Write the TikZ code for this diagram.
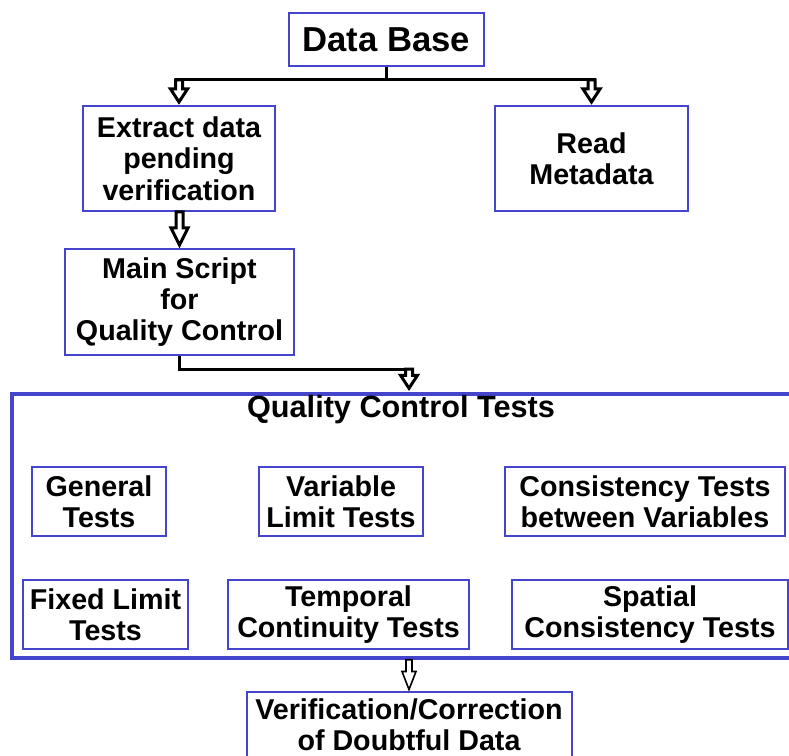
\documentclass[tikz,border=0pt]{standalone}
\usepackage{fontspec}
\setmainfont{Liberation Sans}
\usetikzlibrary{calc}
\newdimen\pxu \pxu=0.75pt
\definecolor{boxblue}{RGB}{68,68,204}
% #1 style, #2 start, #3 tip, #4 shaft half width, #5 head half width, #6 head length
\newcommand\hollowarrow[6]{%
  \coordinate (ha-s) at (#2 -| #3);
  \draw[#1] ($(ha-s)+(-#4,0)$) -- ($(#3)+(-#4,-#6)$) -- ($(#3)+(-#5,-#6)$) -- (#3)
    -- ($(#3)+(#5,-#6)$) -- ($(#3)+(#4,-#6)$) -- ($(ha-s)+(#4,0)$) -- cycle;}
\tikzset{
  box/.style={draw=boxblue, line width=2\pxu, fill=white, inner sep=0pt, align=center,
    font=\bfseries\fontsize{21.5}{23.5}\selectfont},
  bigbox/.style={draw=boxblue, line width=3.5\pxu, inner sep=0pt},
  titletext/.style={inner sep=0pt, font=\bfseries\fontsize{23}{25}\selectfont},
  conn/.style={line width=3\pxu, black},
  harr/.style={draw=black, fill=white, line width=3\pxu, line join=miter},
  harrthin/.style={draw=black, fill=white, line width=1.6\pxu, line join=miter}
}
\begin{document}
\begin{tikzpicture}[x=0.75pt, y=-0.75pt]
\useasboundingbox (0,0) rectangle (789,756);
\fill[white] (0,0) rectangle (789,756);

% top part
\node[box, minimum width=195\pxu, minimum height=53\pxu,
  font=\bfseries\fontsize{26}{28}\selectfont] (db) at (386.5,39.5) {Data Base};
\node[box, minimum width=192\pxu, minimum height=105\pxu] (ext) at (179,158.5)
  {Extract data\\pending\\verification};
\node[box, minimum width=193\pxu, minimum height=105\pxu] (meta) at (591.5,158.5)
  {Read\\Metadata};
\node[box, minimum width=229\pxu, minimum height=106\pxu] (main) at (179.5,302)
  {Main Script\\for\hspace*{0.8em}\\Quality Control};

% quality control tests frame
\node[bigbox, minimum width=792\pxu, minimum height=264\pxu] (qc) at (408,526) {};
\node[titletext] (qct) at (401,410) {Quality Control Tests};

\node[box, minimum width=134\pxu, minimum height=69\pxu] (gen) at (99,501.5)
  {General\\Tests};
\node[box, minimum width=164\pxu, minimum height=69\pxu] (var) at (341,501.5)
  {Variable\\Limit Tests};
\node[box, minimum width=280\pxu, minimum height=69\pxu] (cons) at (645,501.5)
  {Consistency Tests\\between Variables};
\node[box, minimum width=165\pxu, minimum height=69\pxu] (fix) at (105.5,614.5)
  {Fixed Limit\\Tests};
\node[box, minimum width=241\pxu, minimum height=69\pxu] (temp) at (348.5,614.5)
  {Temporal\\Continuity Tests};
\node[box, minimum width=276\pxu, minimum height=69\pxu] (spat) at (650,614.5)
  {Spatial\\Consistency Tests};

\node[box, minimum width=325\pxu, minimum height=66\pxu] (ver) at (409,725)
  {Verification/Correction\\of Doubtful Data};

% connectors
\coordinate (jn) at ($(db.south)+(0,13)$);
\draw[conn] (db.south) -- (jn);
\draw[conn] ($(jn -| ext.north)+(-4,0)$) -- ($(jn -| meta.north)+(4,0)$);
\coordinate (tipA) at ($(ext.north)+(0,-3)$);
\coordinate (tipB) at ($(meta.north)+(0,-3)$);
\hollowarrow{harr}{jn}{tipA}{3.5}{8.5}{13}
\hollowarrow{harr}{jn}{tipB}{3.5}{8.5}{13}

\coordinate (tipC) at ($(main.north)+(0,-3)$);
\hollowarrow{harr}{ext.south}{tipC}{3.5}{8.5}{17}

\coordinate (kk) at ($(main.south)+(0,13)$);
\draw[conn] (main.south) -- (kk) -- ($(kk -| ver.north)+(4,0)$);
\coordinate (tipD) at ($(qc.north -| ver.north)+(0,-4)$);
\hollowarrow{harr}{kk}{tipD}{3.5}{8.5}{13}

\coordinate (tipE) at ($(ver.north)+(0,-1.5)$);
\hollowarrow{harrthin}{qc.south}{tipE}{3}{7}{18}
\end{tikzpicture}
\end{document}
